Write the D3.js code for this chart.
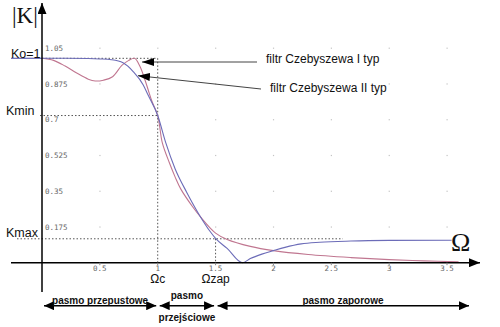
<!DOCTYPE html>
<html>
<head>
<meta charset="utf-8">
<script src="https://cdn.jsdelivr.net/npm/d3@7"></script>
<style>
  html, body { margin: 0; padding: 0; background: #fff; }
  svg { display: block; }
  text { font-family: "Liberation Sans", Arial, sans-serif; }
</style>
</head>
<body>
<svg id="chart" width="500" height="327"></svg>
<script>
// Frequency axis (normalised Ω) and |K| axis ticks
const xTicks = [0.5, 1, 1.5, 2, 2.5, 3, 3.5];
const yTicks = [0.175, 0.35, 0.525, 0.7, 0.875, 1.05];
const yTickLabels = ["0.175", "0.35", "0.525", "0.7", "0.875", "1.05"];

// Characteristic levels
const K0 = 1;
const Kmin = 0.72;
const Kmax = 0.117;
const OmegaC = 1;
const OmegaZap = 1.5;

// Chebyshev type I response (ripple in the passband)
const cheb1Omega = [0, 0.1, 0.2, 0.3, 0.4, 0.46, 0.53, 0.61, 0.69, 0.75, 0.8, 0.847, 0.89, 0.918, 0.95, 1.0,
                    1.04, 1.1, 1.15, 1.2, 1.3, 1.37, 1.5, 1.6, 1.8, 2.0, 2.3, 2.67, 3.0, 3.3, 3.6];
const cheb1K     = [1.0, 0.99, 0.962, 0.928, 0.898, 0.889, 0.893, 0.91, 0.965, 0.99, 1.0, 0.96, 0.894, 0.845, 0.79, 0.72,
                    0.586, 0.49, 0.42, 0.36, 0.275, 0.224, 0.145, 0.114, 0.08, 0.059, 0.04, 0.025, 0.015, 0.009, 0.004];

// Chebyshev type II response (ripple in the stopband)
const cheb2Omega = [0, 0.2, 0.4, 0.5, 0.6, 0.7, 0.79, 0.875, 0.917, 1.0, 1.07, 1.15, 1.25, 1.37,
                    1.45, 1.5, 1.6, 1.733, 1.8, 1.9, 2.0, 2.1, 2.24, 2.4, 2.67, 3.0, 3.54];
const cheb2K     = [1, 1, 0.999, 0.997, 0.993, 0.978, 0.934, 0.87, 0.82, 0.72, 0.586, 0.46, 0.345, 0.224,
                    0.155, 0.119, 0.07, 0, 0.02, 0.042, 0.059, 0.075, 0.092, 0.1, 0.106, 0.109, 0.11];

// Band annotations below the axis
const bands = [
  { from: 0,        to: OmegaC,   lines: ["pasmo przepustowe"] },
  { from: OmegaC,   to: OmegaZap, lines: ["pasmo", "przejściowe"] },
  { from: OmegaZap, to: 3.65,     lines: ["pasmo zaporowe"] }
];

const svg = d3.select("#chart");

const x = d3.scaleLinear().domain([0, 3.5]).range([42, 447]);
const y = d3.scaleLinear().domain([0, 1.05]).range([262.7, 48.1]);

const defs = svg.append("defs");
function arrowMarker(id, w, h) {
  defs.append("marker")
    .attr("id", id)
    .attr("viewBox", `0 0 ${w} ${h}`)
    .attr("refX", w).attr("refY", h / 2)
    .attr("markerWidth", w).attr("markerHeight", h)
    .attr("markerUnits", "userSpaceOnUse")
    .attr("orient", "auto-start-reverse")
    .append("path")
    .attr("d", `M0,0L${w},${h / 2}L0,${h}Z`)
    .attr("fill", "#000");
}
arrowMarker("headAxis", 11, 9);
arrowMarker("headPointer", 12, 8);
arrowMarker("headBand", 10, 9);

// grid dots at tick intersections
const grid = svg.append("g").attr("fill", "#c4c4c4");
xTicks.forEach(tx => yTicks.forEach(ty => {
  grid.append("rect").attr("x", x(tx) - 0.5).attr("y", y(ty) - 0.5).attr("width", 1.2).attr("height", 1.2);
}));

// dotted guide lines
const guides = svg.append("g").attr("stroke", "#555").attr("stroke-width", 1)
  .attr("stroke-dasharray", "1.5,2").attr("fill", "none");
guides.append("line").attr("x1", x(0)).attr("x2", x(OmegaC)).attr("y1", y(K0)).attr("y2", y(K0));
guides.append("line").attr("x1", x(OmegaC)).attr("x2", x(OmegaC)).attr("y1", y(K0)).attr("y2", y(0));
guides.append("line").attr("x1", 40).attr("x2", x(OmegaC)).attr("y1", y(Kmin)).attr("y2", y(Kmin));
guides.append("line").attr("x1", 17).attr("x2", x(2.6)).attr("y1", y(Kmax)).attr("y2", y(Kmax));
guides.append("line").attr("x1", x(OmegaZap)).attr("x2", x(OmegaZap)).attr("y1", y(Kmax)).attr("y2", y(0));

// level line left of the axis
svg.append("line").attr("x1", 11).attr("x2", x(0)).attr("y1", y(K0)).attr("y2", y(K0))
  .attr("stroke", "#7070b8").attr("stroke-width", 1.3);

// response curves
const smooth = d3.line().x(d => x(d[0])).y(d => y(d[1])).curve(d3.curveCatmullRom.alpha(0.5));
const mono = d3.line().x(d => x(d[0])).y(d => y(d[1])).curve(d3.curveMonotoneX);
svg.append("path").datum(d3.zip(cheb1Omega, cheb1K)).attr("d", smooth)
  .attr("fill", "none").attr("stroke", "#c07690").attr("stroke-width", 1.1);
svg.append("path").datum(d3.zip(cheb2Omega, cheb2K)).attr("d", mono)
  .attr("fill", "none").attr("stroke", "#6c6cb8").attr("stroke-width", 1.1);

// axes
svg.append("line").attr("x1", 11).attr("x2", 480).attr("y1", y(0)).attr("y2", y(0))
  .attr("stroke", "#000").attr("stroke-width", 1.5).attr("marker-end", "url(#headAxis)");
svg.append("line").attr("x1", x(0)).attr("x2", x(0)).attr("y1", 292).attr("y2", 3)
  .attr("stroke", "#000").attr("stroke-width", 1.5).attr("marker-end", "url(#headAxis)");

// tick marks and labels
const tickFont = "'DejaVu Sans Mono', monospace";
svg.append("g").selectAll("line").data(xTicks).join("line")
  .attr("x1", d => x(d)).attr("x2", d => x(d)).attr("y1", y(0)).attr("y2", y(0) + 2.5)
  .attr("stroke", "#888").attr("stroke-width", 1);
svg.append("g").selectAll("text").data(xTicks).join("text")
  .attr("x", d => x(d)).attr("y", 271).attr("text-anchor", "middle")
  .style("font-family", tickFont).style("font-size", "7.5px").attr("fill", "#666")
  .text(d => String(d));
svg.append("g").selectAll("text").data(yTicks).join("text")
  .attr("x", 45).attr("y", d => y(d) + 2.8)
  .style("font-family", tickFont).style("font-size", "7.5px").attr("fill", "#666")
  .text((d, i) => yTickLabels[i]);

// axis titles
svg.append("text").attr("x", 12).attr("y", 23)
  .style("font-family", "'Liberation Serif', 'DejaVu Serif', serif").style("font-size", "23px")
  .attr("fill", "#111").text("|K|");
svg.append("text").attr("x", 451).attr("y", 251)
  .style("font-family", "'Liberation Serif', 'DejaVu Serif', serif").style("font-size", "26px")
  .attr("fill", "#111").text("Ω");

// level labels
const lab = (t, px, py, size) => svg.append("text").attr("x", px).attr("y", py)
  .style("font-size", size + "px").attr("fill", "#111").text(t);
lab("Ko=1", 11, 57.5, 12.5);
lab("Kmin", 6, 115, 12.5);
lab("Kmax", 6, 236.5, 12.5);
svg.append("text").attr("x", x(OmegaC)).attr("y", 283).attr("text-anchor", "middle")
  .style("font-size", "12px").attr("fill", "#111").text("Ωc");
svg.append("text").attr("x", x(OmegaZap)).attr("y", 283).attr("text-anchor", "middle")
  .style("font-size", "12px").attr("fill", "#111").text("Ωzap");

// curve pointers
svg.append("line").attr("x1", 257).attr("y1", 62).attr("x2", 142).attr("y2", 62)
  .attr("stroke", "#444").attr("stroke-width", 1).attr("marker-end", "url(#headPointer)");
svg.append("line").attr("x1", 261).attr("y1", 89).attr("x2", 138).attr("y2", 75.7)
  .attr("stroke", "#444").attr("stroke-width", 1).attr("marker-end", "url(#headPointer)");
lab("filtr Czebyszewa I typ", 266, 63, 12);
lab("filtr Czebyszewa II typ", 270, 92, 12);

// band arrows
const bandY = 305.7;
bands.forEach((b, i) => {
  const x1 = i === 0 ? 44 : x(b.from) + 2;
  const x2 = i === 2 ? 469 : x(b.to) - 1.5;
  svg.append("line").attr("x1", x1).attr("x2", x2).attr("y1", bandY).attr("y2", bandY)
    .attr("stroke", "#000").attr("stroke-width", 1.5)
    .attr("marker-start", "url(#headBand)").attr("marker-end", "url(#headBand)");
  const cx = i === 2 ? 343 : (x1 + x2) / 2;
  const t = svg.append("g").style("font-size", "10px").style("font-weight", "bold")
    .attr("fill", "#111").attr("text-anchor", "middle");
  if (b.lines.length === 1) {
    t.append("text").attr("x", cx).attr("y", 303.5).text(b.lines[0]);
  } else {
    t.append("text").attr("x", cx).attr("y", 299).text(b.lines[0]);
    t.append("text").attr("x", cx).attr("y", 320.5).text(b.lines[1]);
  }
});
</script>
</body>
</html>
